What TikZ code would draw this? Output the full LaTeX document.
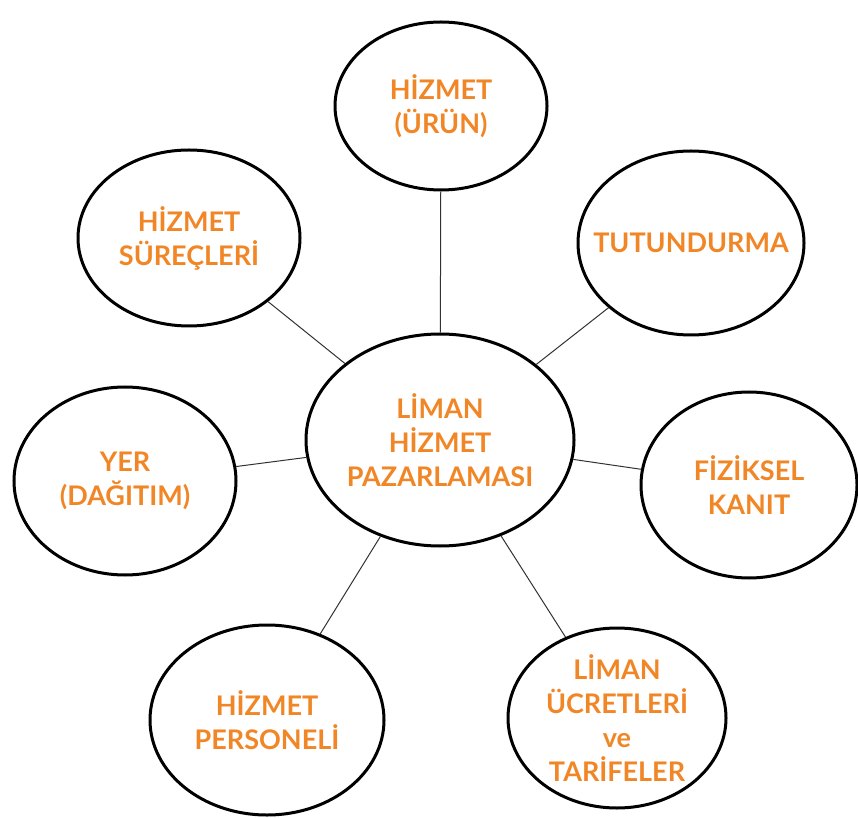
\documentclass[tikz,border=0pt]{standalone}
\usepackage{fontspec}
\setmainfont{Lato}
\usetikzlibrary{shapes.geometric}
\definecolor{orange}{RGB}{241,134,38}
\definecolor{lgrey}{RGB}{50,50,50}

\begin{document}
\begin{tikzpicture}[x=1pt,y=1pt]
    \tikzset{%
      oval/.style={ellipse, draw, line width=3pt, inner sep=0pt},
      txt/.style={align=center, inner sep=0pt, text=orange,
        font=\bfseries\fontsize{27}{34}\selectfont},
      link/.style={draw, lgrey, line width=1pt},
    }
    \useasboundingbox (0,0) rectangle (858,817);
    % middle
    \node[oval, minimum width=268, minimum height=212,
      label={[txt]center:L\.IMAN\\H\.IZMET\\PAZARLAMASI}] (M) at (440,377) {};
    % around it
    \node[oval, minimum width=212, minimum height=168,
      label={[txt]center:H\.IZMET\\(\"UR\"UN)}] (U) at (441,711) {};
    \node[oval, minimum width=226, minimum height=184,
      label={[txt]center:TUTUNDURMA}] (T) at (691,574) {};
    \node[oval, minimum width=222, minimum height=176,
      label={[txt]center:H\.IZMET\\S\"URE\c{C}LER\.I}] (S) at (189,579) {};
    \node[oval, minimum width=222, minimum height=188,
      label={[txt]center:YER\\(DA\u{G}ITIM)}] (Y) at (125,336) {};
    \node[oval, minimum width=216, minimum height=186,
      label={[txt]center:F\.IZ\.IKSEL\\KANIT}] (F) at (749,332) {};
    \node[oval, minimum width=234, minimum height=190,
      label={[txt]center:H\.IZMET\\PERSONEL\.I}] (P) at (267,97) {};
    \node[oval, minimum width=218, minimum height=180,
      label={[txt]center:L\.IMAN\\\"UCRETLER\.I\\ve\\TAR\.IFELER}] (L) at (617,99) {};

    \draw [link] (M) -- (U);
    \draw [link] (M) -- (T);
    \draw [link] (M) -- (S);
    \draw [link] (M) -- (Y);
    \draw [link] (M) -- (F);
    \draw [link] (M) -- (P);
    \draw [link] (M) -- (L);
  \end{tikzpicture}
\end{document}
